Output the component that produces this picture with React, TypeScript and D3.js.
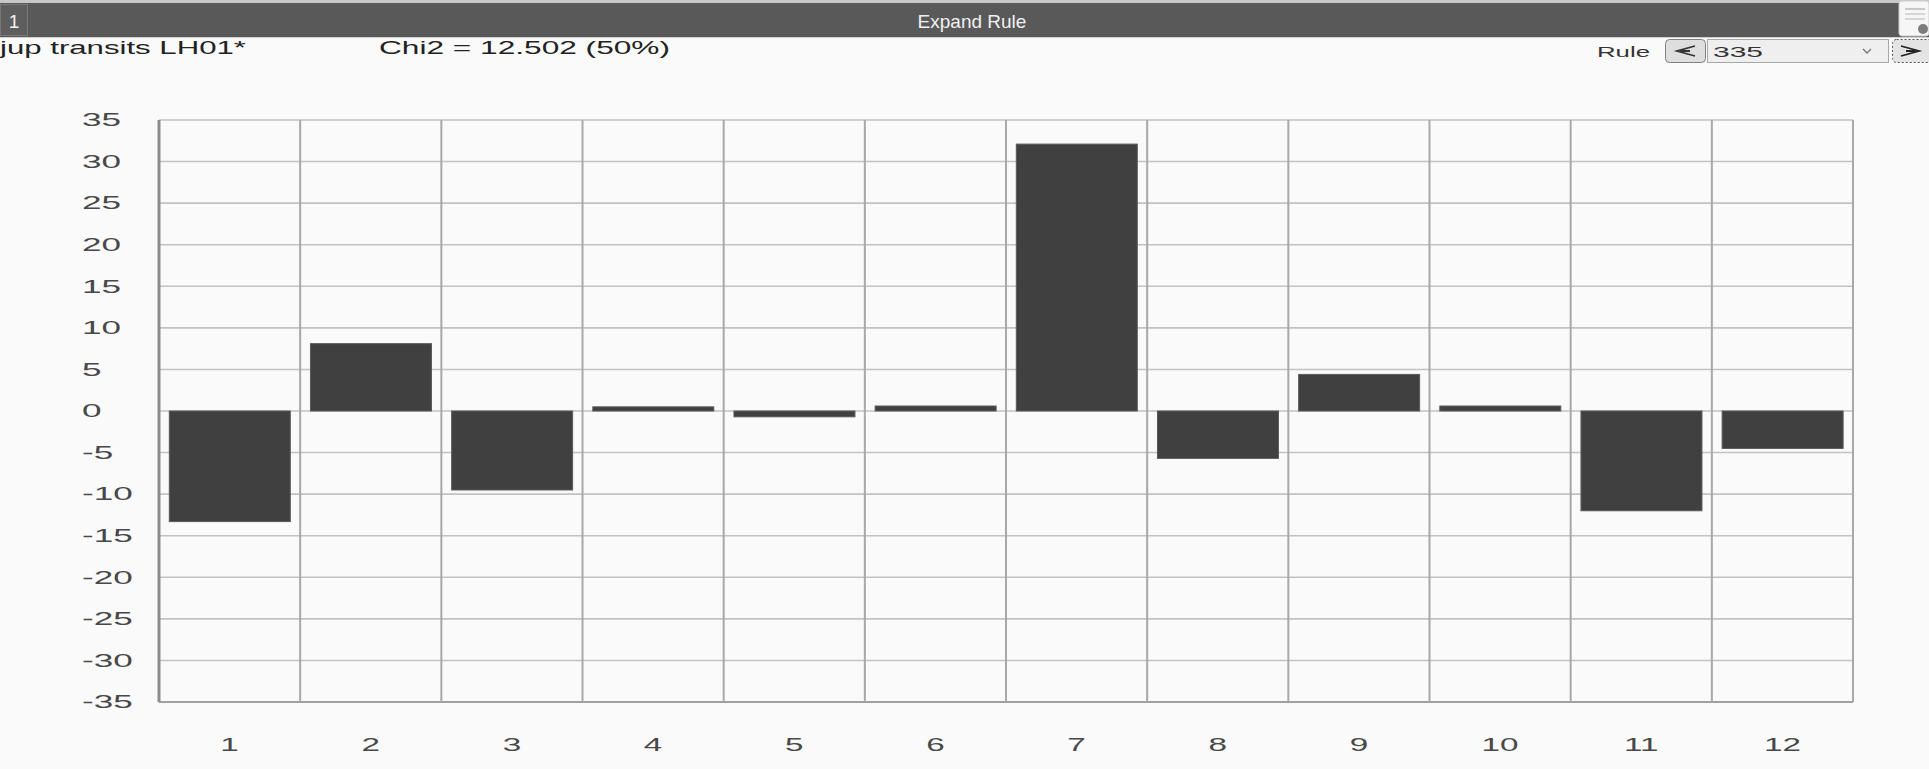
import React from "react";
import * as d3 from "d3";

const categories: string[] = ["1", "2", "3", "4", "5", "6", "7", "8", "9", "10", "11", "12"];
const values: number[] = [-13.3, 8.1, -9.5, 0.5, -0.7, 0.6, 32.1, -5.7, 4.4, 0.6, -12.0, -4.5];
const yTicks: number[] = [35, 30, 25, 20, 15, 10, 5, 0, -5, -10, -15, -20, -25, -30, -35];
const headerTitle = "Expand Rule";
const tabLabel = "1";
const chartName = "jup transits LH01*";
const chiText = "Chi2 = 12.502 (50%)";
const ruleLabel = "Rule";
const ruleValue = "335";

const W = 1929;
const H = 769;
const plot = { left: 159, right: 1853, top: 120, bottom: 702 };

function SText(props: {
  x: number; y: number; sx: number; size: number; anchor?: string; fill?: string; children: React.ReactNode;
}) {
  const { x, y, sx, size, anchor = "start", fill = "#484848", children } = props;
  return (
    <text
      transform={`translate(${x},${y}) scale(${sx},1)`}
      fontSize={size}
      fontFamily="'Liberation Sans', Arial, sans-serif"
      textAnchor={anchor}
      dominantBaseline="central"
      fill={fill}
    >
      {children}
    </text>
  );
}

export default function App() {
  const x = d3.scaleBand<string>().domain(categories).range([plot.left, plot.right]).padding(0);
  const y = d3.scaleLinear().domain([-35, 35]).range([plot.bottom, plot.top]);
  const bw = x.bandwidth();
  const boundaries = categories.map((c) => x(c) as number).concat([plot.right]);

  return (
    <svg
      width={W}
      height={H}
      style={{ position: "absolute", left: 0, top: 0, background: "#fafafa" }}
      fontFamily="'Liberation Sans', Arial, sans-serif"
    >
      <rect x={0} y={0} width={W} height={H} fill="#fafafa" />
      {/* header */}
      <rect x={0} y={0} width={W} height={3} fill="#c8c8c8" />
      <rect x={0} y={3} width={W} height={34} fill="#595959" />
      <rect x={0} y={37} width={W} height={1} fill="#d0d0d0" />
      <rect x={0.5} y={4.5} width={27} height={31} fill="#5e5e5e" stroke="#7a7a7a" />
      <text x={14} y={21} fontSize={19} fill="#f2f2f2" textAnchor="middle" dominantBaseline="central">{tabLabel}</text>
      <text x={972} y={21} fontSize={19} fill="#f0f0f0" textAnchor="middle" dominantBaseline="central">{headerTitle}</text>
      {/* top-right icon */}
      <rect x={1899} y={1} width={30} height={35} rx={3} fill="#f6f6f6" stroke="#cfcfcf" />
      <line x1={1905} x2={1925} y1={9} y2={9} stroke="#9a9a9a" strokeWidth={1} />
      <line x1={1905} x2={1925} y1={14} y2={14} stroke="#b5b5b5" strokeWidth={1} />
      <line x1={1905} x2={1925} y1={19} y2={19} stroke="#b5b5b5" strokeWidth={1} />
      <circle cx={1923} cy={29} r={5} fill="#7d7d7d" />

      {/* second row */}
      <text x={0} y={47} fontSize={19} fill="#222" dominantBaseline="central" textLength={246} lengthAdjust="spacingAndGlyphs">{chartName}</text>
      <text x={379} y={47} fontSize={19} fill="#222" dominantBaseline="central" textLength={291} lengthAdjust="spacingAndGlyphs">{chiText}</text>
      <text x={1597} y={51} fontSize={15} fill="#333" dominantBaseline="central" textLength={53} lengthAdjust="spacingAndGlyphs">{ruleLabel}</text>
      <rect x={1665.5} y={39.5} width={40} height={23} rx={4} fill="#dedede" stroke="#808080" />
      <path d="M1695,46 L1677,51 L1695,56 M1680,51 L1690,51" stroke="#333" strokeWidth={1.8} fill="none" />
      <rect x={1707.5} y={39.5} width={181} height={23} fill="#efefef" stroke="#a8a8a8" />
      <text x={1713} y={51} fontSize={15} fill="#333" dominantBaseline="central" textLength={50} lengthAdjust="spacingAndGlyphs">{ruleValue}</text>
      <path d="M1863,49 L1867,53 L1871,49" stroke="#777" strokeWidth={1.3} fill="none" />
      <rect x={1892.5} y={39.5} width={40} height={23} rx={4} fill="#e4e4e4" stroke="#555" strokeDasharray="2,2" />
      <path d="M1901,46 L1919,51 L1901,56 M1916,51 L1906,51" stroke="#222" strokeWidth={1.8} fill="none" />

      {/* horizontal gridlines */}
      {yTicks.map((t) => (
        <line key={"h" + t} x1={plot.left} x2={plot.right} y1={y(t)} y2={y(t)}
          stroke={t === -35 ? "#a0a0a0" : "#c2c2c2"} strokeWidth={t === -35 ? 2 : 1.6} />
      ))}
      {/* vertical gridlines */}
      {boundaries.map((b, i) => (
        <line key={"v" + i} x1={b} x2={b} y1={plot.top} y2={plot.bottom}
          stroke={i === 0 ? "#8c8c8c" : "#a8a8a8"} strokeWidth={i === 0 ? 3 : 2} />
      ))}

      {/* bars */}
      {values.map((v, i) => {
        const c = categories[i];
        const x0 = (x(c) as number) + bw * 0.073;
        const w = bw * 0.857;
        const y0 = y(Math.max(0, v));
        const h = Math.abs(y(v) - y(0));
        return <rect key={"b" + c} x={x0} y={y0} width={w} height={h} fill="#404040" stroke="#5a5a5a" strokeWidth={1} />;
      })}

      {/* y tick labels */}
      {yTicks.map((t) => (
        <SText key={"yl" + t} x={82} y={y(t)} sx={1.9} size={18.5}>{String(t)}</SText>
      ))}
      {/* x tick labels */}
      {categories.map((c) => (
        <SText key={"xl" + c} x={(x(c) as number) + bw / 2} y={744} sx={1.75} size={19} anchor="middle">{c}</SText>
      ))}
    </svg>
  );
}
